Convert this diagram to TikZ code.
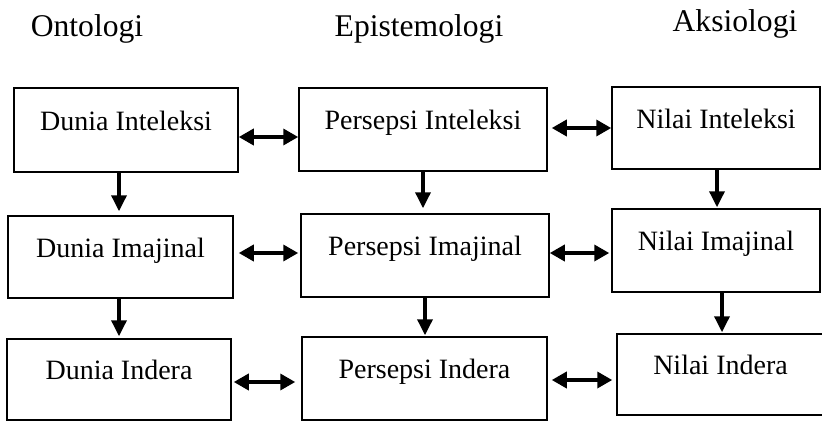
\documentclass[tikz,border=0pt]{standalone}
\usepackage{fontspec}
\setmainfont{Liberation Serif}
\usetikzlibrary{arrows.meta, positioning}

\tikzset{
    kotak/.style={draw, line width=1.5pt, inner sep=0pt, text height=10pt, text depth=10pt, font=\fontsize{28}{30}\selectfont},
    judul/.style={anchor=base, font=\fontsize{31.6}{34}\selectfont},
    panah/.style={-{Triangle[length=16pt,width=15pt]}, line width=3.5pt},
    dua/.style={{Triangle[length=15pt,width=16pt]}-{Triangle[length=15pt,width=16pt]}, line width=3.5pt}
}

\begin{document}
\begin{tikzpicture}[x=1pt,y=-1pt]
            \useasboundingbox (0,0) rectangle (822,421);
            \node[judul] (onto) at (87,36) {Ontologi};
            \node[judul] (epis) at (419,36) {Epistemologi};
            \node[judul] (aksi) at (735,31) {Aksiologi};

            \node[kotak, minimum width=224pt, minimum height=84pt] (dint) at (126,130) {Dunia Inteleksi};
            \node[kotak, minimum width=225pt, minimum height=82pt] (dima) at (120.5,257) {Dunia Imajinal};
            \node[kotak, minimum width=224pt, minimum height=81pt] (dind) at (119,379.5) {Dunia Indera};
            \node[kotak, minimum width=248pt, minimum height=83pt] (pint) at (423,129.5) {Persepsi Inteleksi};
            \node[kotak, minimum width=248pt, minimum height=83pt] (pima) at (425,255.5) {Persepsi Imajinal};
            \node[kotak, minimum width=245pt, minimum height=83pt] (pind) at (424.5,378.5) {Persepsi Indera};
            \node[kotak, minimum width=208pt, minimum height=82pt] (nint) at (716,128) {Nilai Inteleksi};
            \node[kotak, minimum width=208pt, minimum height=83pt] (nima) at (716,250.5) {Nilai Imajinal};
            \node[kotak, minimum width=207pt, minimum height=81pt] (nind) at (720.5,374.5) {Nilai Indera};

            \draw[dua] ([yshift=-7pt]dint.east) -- ([yshift=-7.5pt]pint.west);
            \draw[dua, shorten <=5pt, shorten >=2pt] ([yshift=4pt]dima.east) -- ([yshift=2.5pt]pima.west);
            \draw[dua, shorten <=2pt, shorten >=6pt] ([yshift=-2.5pt]dind.east) -- ([yshift=-3.5pt]pind.west);
            \draw[dua, shorten <=4pt] ([yshift=1.5pt]pint.east) -- (nint.west);
            \draw[dua, shorten >=2pt] ([yshift=2.5pt]pima.east) -- ([yshift=-2.5pt]nima.west);
            \draw[dua, shorten <=4pt, shorten >=4pt] ([yshift=-1.5pt]pind.east) -- ([yshift=-5.5pt]nind.west);

            \draw[panah, shorten >=4pt] ([xshift=-7pt]dint.south) -- ([xshift=-1.5pt]dima.north);
            \draw[panah, shorten >=2pt] ([xshift=-1.5pt]dima.south) -- (dind.north);
            \draw[panah, shorten >=5pt] (pint.south) -- ([xshift=-2pt]pima.north);
            \draw[panah, shorten >=1pt] (pima.south) -- ([xshift=0.5pt]pind.north);
            \draw[panah, shorten >=1pt] ([xshift=1pt]nint.south) -- ([xshift=1pt]nima.north);
            \draw[panah, shorten >=1pt] ([xshift=6pt]nima.south) -- ([xshift=1.5pt]nind.north);
        \end{tikzpicture}
\end{document}
